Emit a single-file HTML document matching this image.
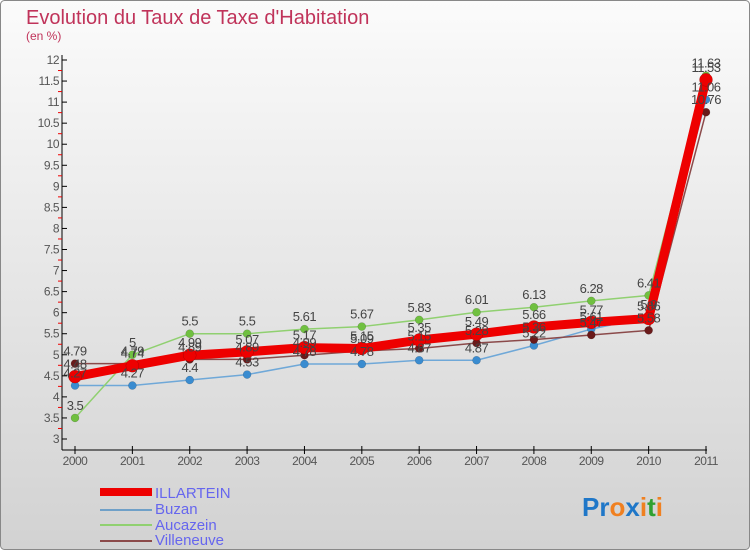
<!DOCTYPE html>
<html><head><meta charset="utf-8"><style>
html,body{margin:0;padding:0;}
body{width:750px;height:550px;overflow:hidden;font-family:"Liberation Sans",sans-serif;}
svg text{font-family:"Liberation Sans",sans-serif;}
</style></head><body>
<svg id="chart" width="750" height="550" xmlns="http://www.w3.org/2000/svg">
<defs><linearGradient id="bg" x1="0" y1="0" x2="0" y2="1"><stop offset="0" stop-color="#fbfbfb"/><stop offset="1" stop-color="#d2d2d2"/></linearGradient></defs>
<rect x="0.5" y="0.5" width="749" height="549" rx="4" fill="url(#bg)" stroke="#888"/>
<text x="26" y="24" font-size="20" fill="#c0335a">Evolution du Taux de Taxe d'Habitation</text>
<text x="26" y="40" font-size="12" fill="#c0335a">(en %)</text>
<g id="axes"></g>
<g id="series"></g>
<g id="labels"></g>
<g>
<rect x="100" y="488" width="52" height="8" fill="#e00"/>
<text x="155" y="498" font-size="15" fill="#6666ee">ILLARTEIN</text>
<line x1="100" y1="510" x2="152" y2="510" stroke="#6fa0c8" stroke-width="2"/>
<text x="155" y="514" font-size="15" fill="#6666ee">Buzan</text>
<line x1="100" y1="525" x2="152" y2="525" stroke="#90d070" stroke-width="2"/>
<text x="155" y="530" font-size="15" fill="#6666ee">Aucazein</text>
<line x1="100" y1="541" x2="152" y2="541" stroke="#8b4a4a" stroke-width="2"/>
<text x="155" y="545" font-size="15" fill="#6666ee">Villeneuve</text>
</g>
<g font-size="26" font-weight="bold">
<text x="582" y="516"><tspan fill="#1f77c8">Pr</tspan><tspan fill="#f08020">o</tspan><tspan fill="#1f77c8">x</tspan><tspan fill="#f08020">i</tspan><tspan fill="#30a030">t</tspan><tspan fill="#f08020">i</tspan></text>
</g>
</svg>
<script>
const years=[2000,2001,2002,2003,2004,2005,2006,2007,2008,2009,2010,2011];
const illartein=[4.48,4.74,4.99,5.07,5.17,5.15,5.35,5.49,5.66,5.77,5.86,11.53];
const buzan=[4.27,4.27,4.4,4.53,4.78,4.78,4.87,4.87,5.22,5.61,5.9,11.06];
const aucazein=[3.5,5,5.5,5.5,5.61,5.67,5.83,6.01,6.13,6.28,6.41,11.63];
const villeneuve=[4.79,4.79,4.89,4.89,4.99,5.09,5.15,5.28,5.36,5.47,5.58,10.76];
const yTicks=[3,3.5,4,4.5,5,5.5,6,6.5,7,7.5,8,8.5,9,9.5,10,10.5,11,11.5,12];
const NS="http://www.w3.org/2000/svg";
const xS=i=>75+i*(706-75)/11;
const yS=v=>439-(v-3)*(439-60)/9;
function mk(t,a,p){const e=document.createElementNS(NS,t);for(const k in a)e.setAttribute(k,a[k]);p.appendChild(e);return e;}
const ax=document.getElementById('axes');
let e=mk('line',{x1:62,y1:55,x2:62,y2:450,stroke:'#000'},ax);


e=mk('line',{x1:62,y1:450,x2:707,y2:450,stroke:'#000'},ax);


yTicks.forEach((v,i)=>{
  mk('line',{x1:62,y1:yS(v),x2:67,y2:yS(v),stroke:'#000'},ax);
  if(i<yTicks.length-1)mk('line',{x1:58,y1:yS(v+0.25),x2:62,y2:yS(v+0.25),stroke:'#e00'},ax);
  const t=mk('text',{x:59,y:yS(v)+4,'font-size':12,fill:'#555','text-anchor':'end','letter-spacing':'-0.5'},ax);
  t.textContent=String(v);
  
  
});
years.forEach((y,i)=>{
  mk('line',{x1:xS(i),y1:446,x2:xS(i),y2:454,stroke:'#000'},ax);
  const t=mk('text',{x:xS(i),y:465,'font-size':12,fill:'#555','text-anchor':'middle','letter-spacing':'-0.5'},ax);
  t.textContent=String(y);
  
  
});
const sg=document.getElementById('series'),lg=document.getElementById('labels');
function draw(name,vals,color,dot,w,r,lblDy){
  const g=mk('g',{},sg);
  
  
  const pl=mk('polyline',{points:vals.map((v,i)=>xS(i)+','+yS(v)).join(' '),fill:'none',stroke:color,'stroke-width':w,'stroke-linejoin':'round'},g);
  
  
  vals.forEach((v,i)=>{
    const c=mk('circle',{cx:xS(i),cy:yS(v),r:r,fill:dot,stroke:'rgba(0,0,0,0.25)','stroke-width':0.5},g);
    
    
    const t=mk('text',{x:xS(i),y:yS(v)+lblDy,'font-size':13,fill:'#444','text-anchor':'middle','letter-spacing':'-0.5'},lg);
    t.textContent=String(v);
    
    
  });
}
draw('buzan',buzan,'#6fa8d8','#3a8cd0',1.5,4,-8);
draw('aucazein',aucazein,'#90d070','#70c040',1.5,4,-8);
draw('villeneuve',villeneuve,'#8b4a4a','#6a1a1a',1.5,4,-8);
draw('illartein',illartein,'#ee0000','#ee0000',9,6.5,-8);
</script>
</body></html>
